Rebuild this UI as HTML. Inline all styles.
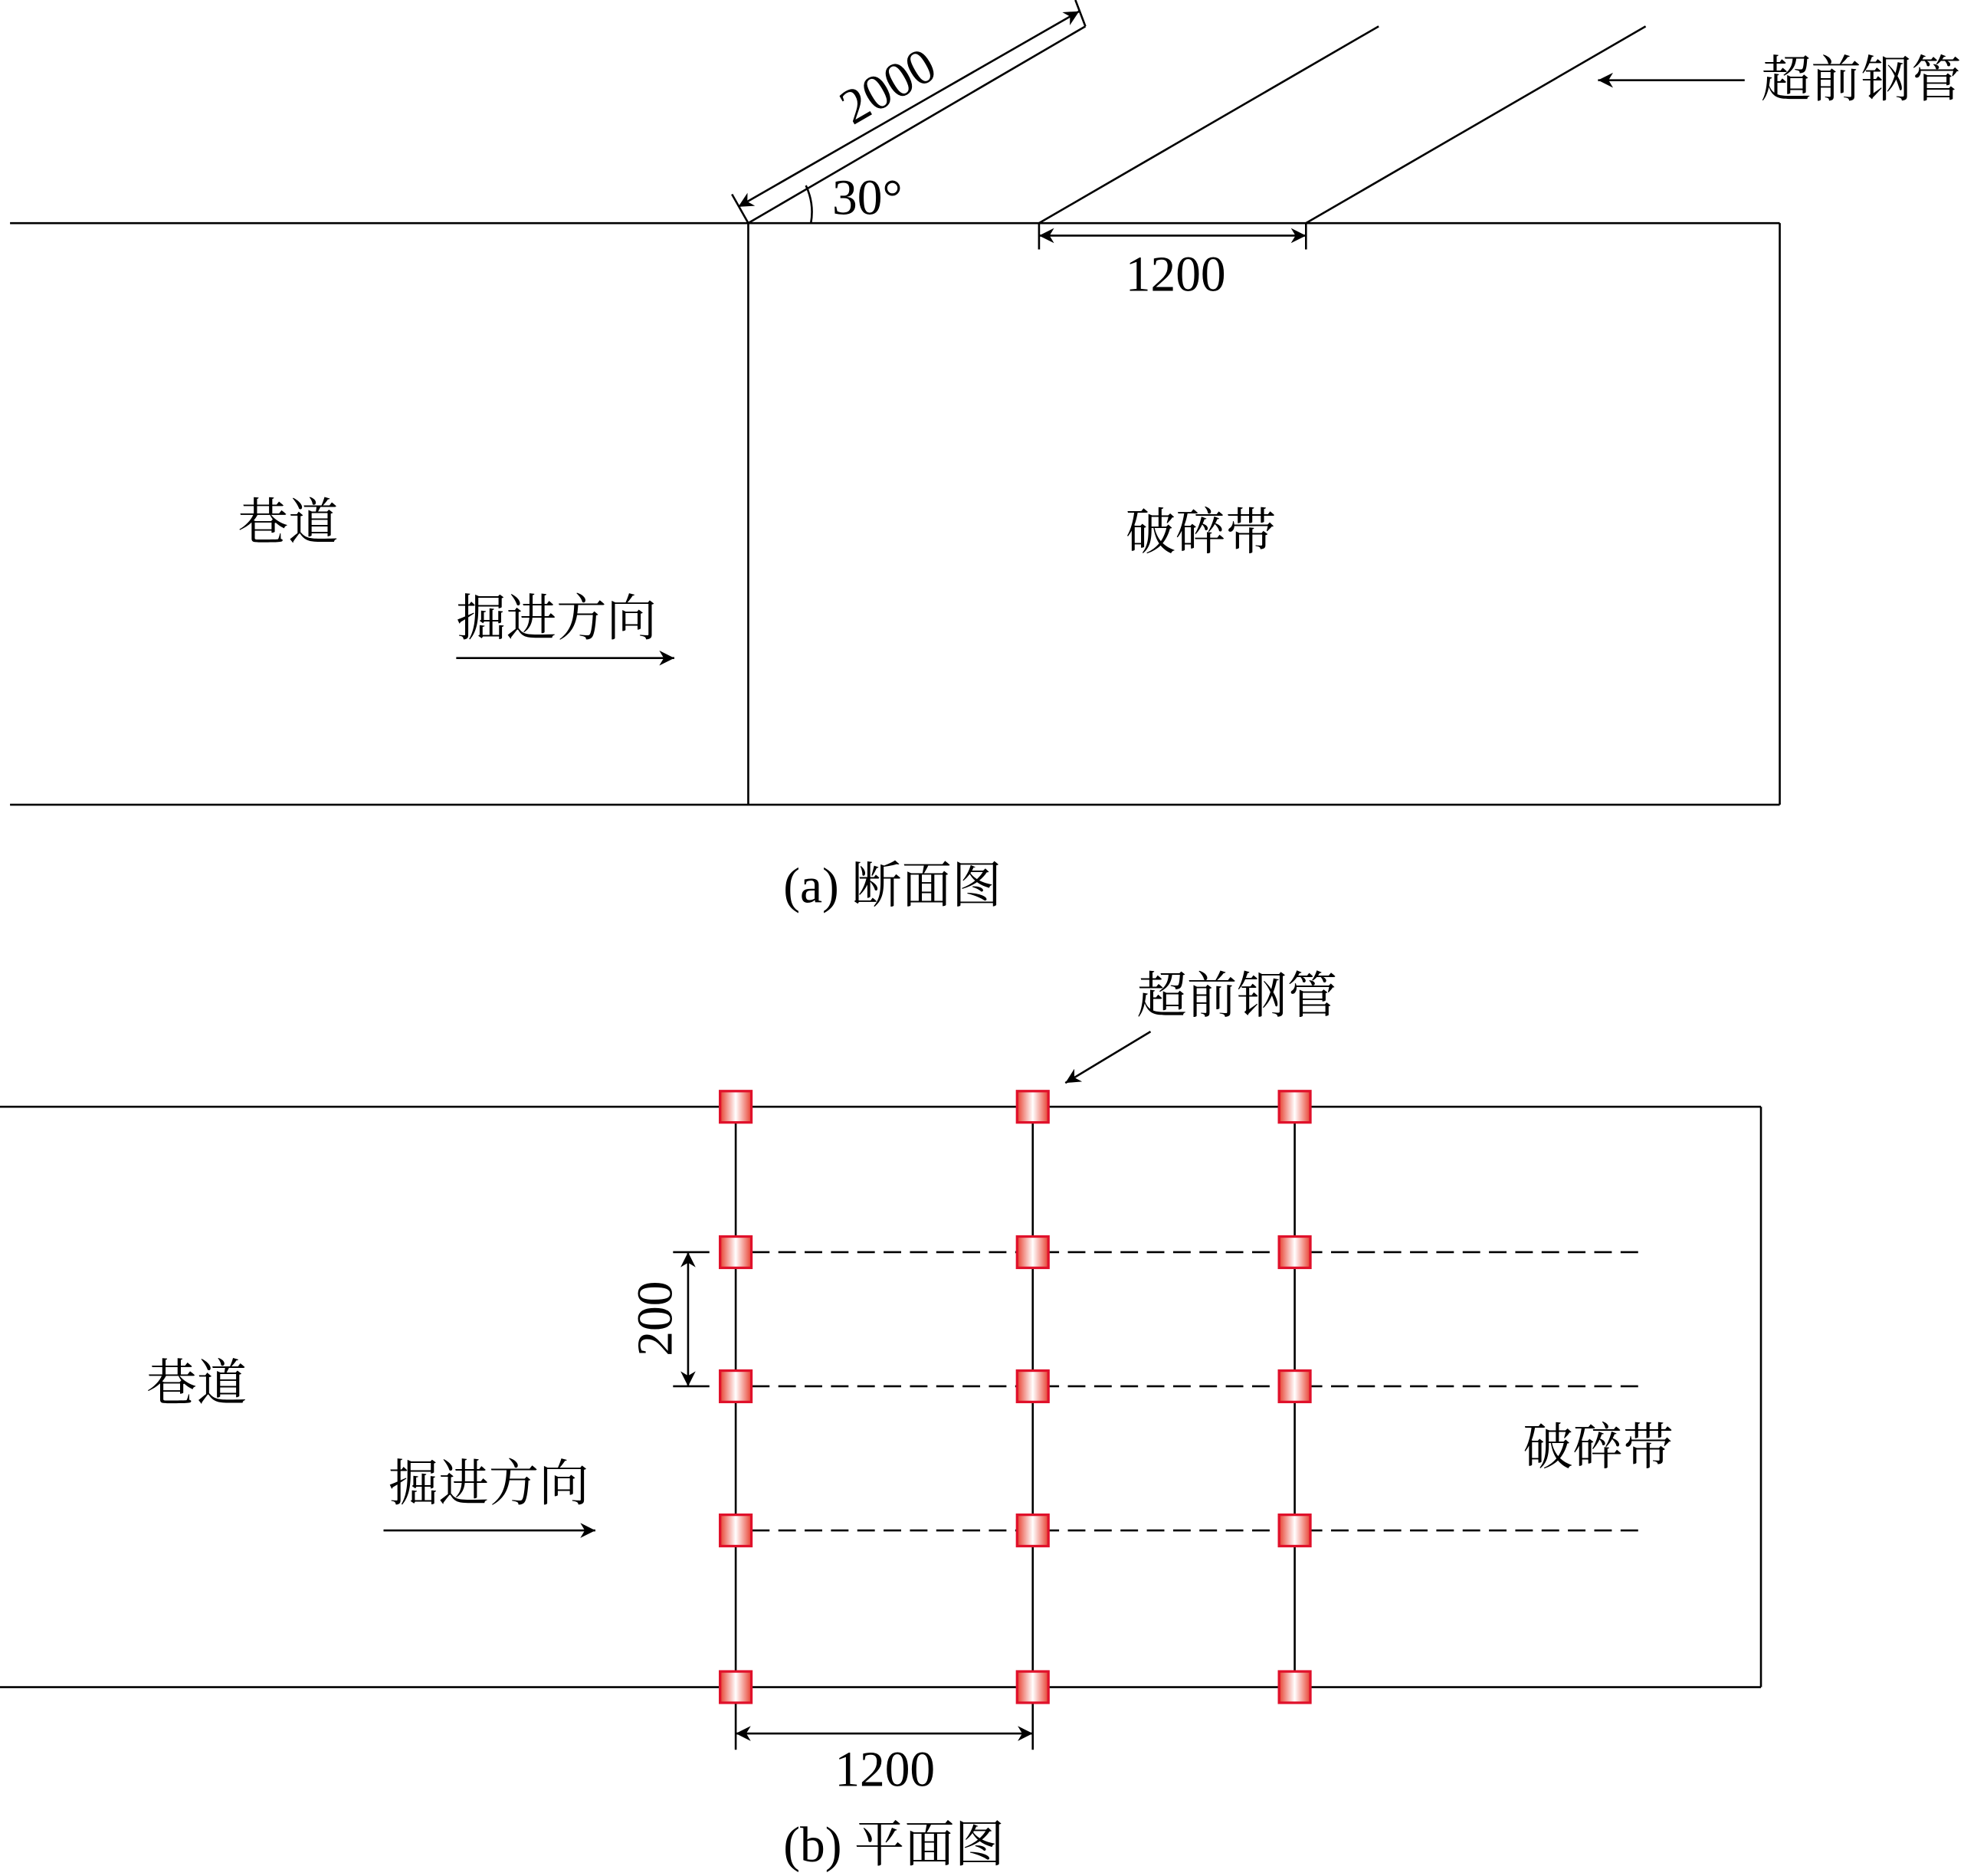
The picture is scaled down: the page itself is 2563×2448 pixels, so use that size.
<!DOCTYPE html>
<html><head><meta charset="utf-8"><style>html,body{margin:0;padding:0;background:#fff}svg{display:block}text{font-family:"Liberation Serif","Noto Serif CJK SC",serif;fill:#000}</style></head>
<body>
<svg width="2563" height="2448" viewBox="0 0 1567 1496.7" xmlns="http://www.w3.org/2000/svg" font-family="Liberation Serif, Noto Serif CJK SC, serif">
<defs>
<linearGradient id="g" x1="0" x2="1" y1="0" y2="0"><stop offset="0" stop-color="#e84030"/><stop offset="0.5" stop-color="#ffffff"/><stop offset="1" stop-color="#e84030"/></linearGradient>
<marker id="a" viewBox="0 0 10 10" refX="10" refY="5" markerWidth="18" markerHeight="12" markerUnits="userSpaceOnUse" orient="auto-start-reverse"><path d="M0,0 L10,5 L0,10 L3,5 Z" fill="#000"/></marker>
<g id="sq"><rect x="-12.5" y="-12.5" width="25" height="25" fill="url(#g)" stroke="#e0102a" stroke-width="2"/></g>
</defs>
<g stroke="#000" stroke-width="1.6" fill="none">
<line x1="8" y1="178" x2="1420" y2="178"/>
<line x1="8" y1="642" x2="1420" y2="642"/>
<line x1="597" y1="178" x2="597" y2="642"/>
<line x1="1420" y1="178" x2="1420" y2="642"/>
<line x1="597" y1="178" x2="866" y2="21"/>
<line x1="829" y1="178" x2="1100" y2="21"/>
<line x1="1042" y1="178" x2="1313" y2="21"/>
<line x1="584" y1="155" x2="597" y2="178"/>
<line x1="858" y1="0" x2="866" y2="21"/>
<line x1="589" y1="165" x2="861" y2="9" marker-start="url(#a)" marker-end="url(#a)"/>
<path d="M643,148 A50,50 0 0 1 647,178"/>
<line x1="829" y1="178" x2="829" y2="199"/>
<line x1="1042" y1="178" x2="1042" y2="199"/>
<line x1="829" y1="188" x2="1042" y2="188" marker-start="url(#a)" marker-end="url(#a)"/>
<line x1="1392" y1="64" x2="1275" y2="64" marker-end="url(#a)"/>
<line x1="364" y1="525" x2="538" y2="525" marker-end="url(#a)"/>
<line x1="0" y1="883" x2="1405" y2="883"/>
<line x1="0" y1="1346" x2="1405" y2="1346"/>
<line x1="1405" y1="883" x2="1405" y2="1346"/>
<line x1="587" y1="883" x2="587" y2="1346"/>
<line x1="824" y1="883" x2="824" y2="1346"/>
<line x1="1033" y1="883" x2="1033" y2="1346"/>
<g stroke-dasharray="14,7">
<line x1="600" y1="999" x2="1313" y2="999"/>
<line x1="600" y1="1106" x2="1313" y2="1106"/>
<line x1="600" y1="1221" x2="1313" y2="1221"/>
</g>
<line x1="537" y1="999" x2="566" y2="999"/>
<line x1="537" y1="1106" x2="566" y2="1106"/>
<line x1="549" y1="999" x2="549" y2="1106" marker-start="url(#a)" marker-end="url(#a)"/>
<line x1="587" y1="1346" x2="587" y2="1396"/>
<line x1="824" y1="1346" x2="824" y2="1396"/>
<line x1="587" y1="1383" x2="824" y2="1383" marker-start="url(#a)" marker-end="url(#a)"/>
<line x1="918" y1="823" x2="850" y2="864" marker-end="url(#a)"/>
<line x1="306" y1="1221" x2="475" y2="1221" marker-end="url(#a)"/>
</g>
<g>
<use href="#sq" x="587" y="883"/><use href="#sq" x="824" y="883"/><use href="#sq" x="1033" y="883"/>
<use href="#sq" x="587" y="999"/><use href="#sq" x="824" y="999"/><use href="#sq" x="1033" y="999"/>
<use href="#sq" x="587" y="1106"/><use href="#sq" x="824" y="1106"/><use href="#sq" x="1033" y="1106"/>
<use href="#sq" x="587" y="1221"/><use href="#sq" x="824" y="1221"/><use href="#sq" x="1033" y="1221"/>
<use href="#sq" x="587" y="1346"/><use href="#sq" x="824" y="1346"/><use href="#sq" x="1033" y="1346"/>
</g>
<g font-size="40">
<text x="708" y="82" text-anchor="middle" transform="rotate(-30 708 68)">2000</text>
<text x="664" y="171">30°</text>
<text x="938" y="232" text-anchor="middle">1200</text>
<text x="1405" y="77">超前钢管</text>
<text x="190" y="430">巷道</text>
<text x="364" y="507">掘进方向</text>
<text x="898" y="438">破碎带</text>
<text x="625" y="720">(a) 断面图</text>
<text x="907" y="808">超前钢管</text>
<text x="117" y="1117">巷道</text>
<text x="310" y="1197">掘进方向</text>
<text x="1215" y="1168">破碎带</text>
<text x="522" y="1066" text-anchor="middle" transform="rotate(-90 522 1052)">200</text>
<text x="706" y="1425" text-anchor="middle">1200</text>
<text x="625" y="1485">(b) 平面图</text>
</g>
</svg>
</body></html>
